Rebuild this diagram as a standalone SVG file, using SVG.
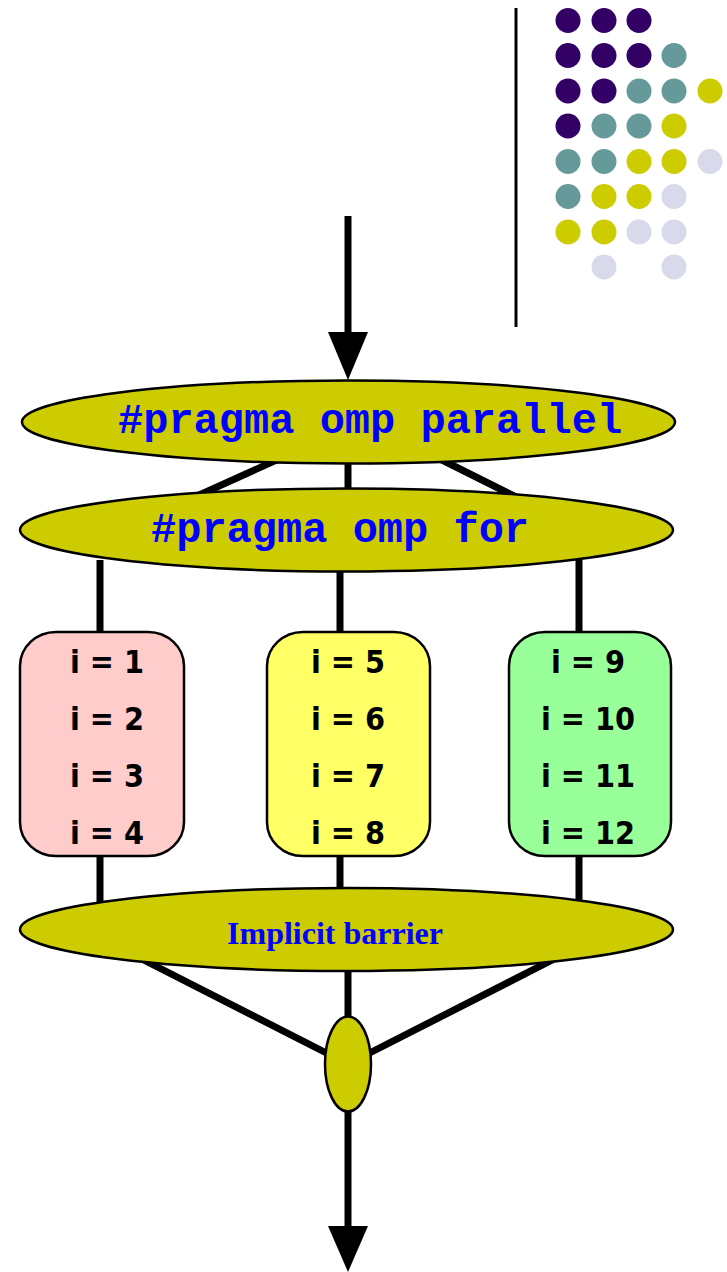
<svg xmlns="http://www.w3.org/2000/svg" width="727" height="1272" viewBox="0 0 727 1272">
<style>
.ell{fill:#CCCC00;stroke:#000;stroke-width:2.5}
.ln{stroke:#000;stroke-width:7;fill:none}
.mono{font-family:"Liberation Mono","Courier New",monospace;font-weight:bold;font-size:42px;fill:#0000FF}
.it{font-family:"DejaVu Sans Condensed","DejaVu Sans",sans-serif;font-stretch:condensed;font-weight:bold;font-size:32px;fill:#000;text-anchor:middle}
.bx{stroke:#000;stroke-width:2.5}
.pu{fill:#330066}.te{fill:#669999}.ye{fill:#CCCC00}.la{fill:#D9D9EC}
</style>
<rect width="727" height="1272" fill="#fff"/>
<g id="decoration">
<line x1="516" y1="8" x2="516" y2="327" stroke="#000" stroke-width="3"/>
<g>
<circle class="pu" cx="568" cy="20.5" r="12.5"/><circle class="pu" cx="604" cy="20.5" r="12.5"/><circle class="pu" cx="639" cy="20.5" r="12.5"/>
<circle class="pu" cx="568" cy="55.5" r="12.5"/><circle class="pu" cx="604" cy="55.5" r="12.5"/><circle class="pu" cx="639" cy="55.5" r="12.5"/><circle class="te" cx="674" cy="55.5" r="12.5"/>
<circle class="pu" cx="568" cy="91" r="12.5"/><circle class="pu" cx="604" cy="91" r="12.5"/><circle class="te" cx="639" cy="91" r="12.5"/><circle class="te" cx="674" cy="91" r="12.5"/><circle class="ye" cx="710" cy="91" r="12.5"/>
<circle class="pu" cx="568" cy="126" r="12.5"/><circle class="te" cx="604" cy="126" r="12.5"/><circle class="te" cx="639" cy="126" r="12.5"/><circle class="ye" cx="674" cy="126" r="12.5"/>
<circle class="te" cx="568" cy="161.5" r="12.5"/><circle class="te" cx="604" cy="161.5" r="12.5"/><circle class="ye" cx="639" cy="161.5" r="12.5"/><circle class="ye" cx="674" cy="161.5" r="12.5"/><circle class="la" cx="710" cy="161.5" r="12.5"/>
<circle class="te" cx="568" cy="196.5" r="12.5"/><circle class="ye" cx="604" cy="196.5" r="12.5"/><circle class="ye" cx="639" cy="196.5" r="12.5"/><circle class="la" cx="674" cy="196.5" r="12.5"/>
<circle class="ye" cx="568" cy="232" r="12.5"/><circle class="ye" cx="604" cy="232" r="12.5"/><circle class="la" cx="639" cy="232" r="12.5"/><circle class="la" cx="674" cy="232" r="12.5"/>
<circle class="la" cx="604" cy="267" r="12.5"/><circle class="la" cx="674" cy="267" r="12.5"/>
</g>
</g>
<g id="connectors">
<line class="ln" x1="348" y1="216" x2="348" y2="336"/>
<polygon points="328,332 368,332 348,380" fill="#000"/>
<line class="ln" x1="343" y1="430" x2="166" y2="510"/>
<line class="ln" x1="382" y1="430" x2="542" y2="510"/>
<line class="ln" x1="348" y1="440" x2="348" y2="510"/>
<line class="ln" x1="100" y1="560" x2="100" y2="634"/>
<line class="ln" x1="340" y1="560" x2="340" y2="634"/>
<line class="ln" x1="579" y1="560" x2="579" y2="634"/>
<line class="ln" x1="100" y1="854" x2="100" y2="910"/>
<line class="ln" x1="340" y1="854" x2="340" y2="910"/>
<line class="ln" x1="579" y1="854" x2="579" y2="910"/>
<line class="ln" x1="130" y1="953" x2="348" y2="1064"/>
<line class="ln" x1="566" y1="953" x2="348" y2="1064"/>
<line class="ln" x1="348" y1="950" x2="348" y2="1230"/>
<polygon points="328,1226 368,1226 348,1272" fill="#000"/>
</g>
<g id="parallel">
<ellipse class="ell" cx="348.5" cy="422" rx="326.5" ry="41.5"/>
<text class="mono" x="118" y="433">#pragma omp parallel</text>
</g>
<g id="for">
<ellipse class="ell" cx="346.5" cy="530" rx="326.5" ry="41.5"/>
<text class="mono" x="151" y="542">#pragma omp for</text>
</g>
<g id="thread1">
<rect class="bx" x="20" y="632" width="164" height="224" rx="36" ry="34" fill="#FFCCCC"/>
<text class="it" x="107" y="673">i = 1</text>
<text class="it" x="107" y="730">i = 2</text>
<text class="it" x="107" y="787">i = 3</text>
<text class="it" x="107" y="844">i = 4</text>
</g>
<g id="thread2">
<rect class="bx" x="267" y="632" width="163" height="224" rx="36" ry="34" fill="#FFFF66"/>
<text class="it" x="348" y="673">i = 5</text>
<text class="it" x="348" y="730">i = 6</text>
<text class="it" x="348" y="787">i = 7</text>
<text class="it" x="348" y="844">i = 8</text>
</g>
<g id="thread3">
<rect class="bx" x="509" y="632" width="162" height="224" rx="36" ry="34" fill="#99FF99"/>
<text class="it" x="588" y="673">i = 9</text>
<text class="it" x="588" y="730">i = 10</text>
<text class="it" x="588" y="787">i = 11</text>
<text class="it" x="588" y="844">i = 12</text>
</g>
<g id="barrier">
<ellipse class="ell" cx="346.5" cy="929.5" rx="326.5" ry="41.5"/>
<text x="335" y="944" text-anchor="middle" font-family="Liberation Serif,'Times New Roman',serif" font-weight="bold" font-size="32" fill="#0000FF">Implicit barrier</text>
</g>
<g id="join">
<ellipse class="ell" cx="348" cy="1064" rx="23" ry="47.5"/>
</g>
</svg>
